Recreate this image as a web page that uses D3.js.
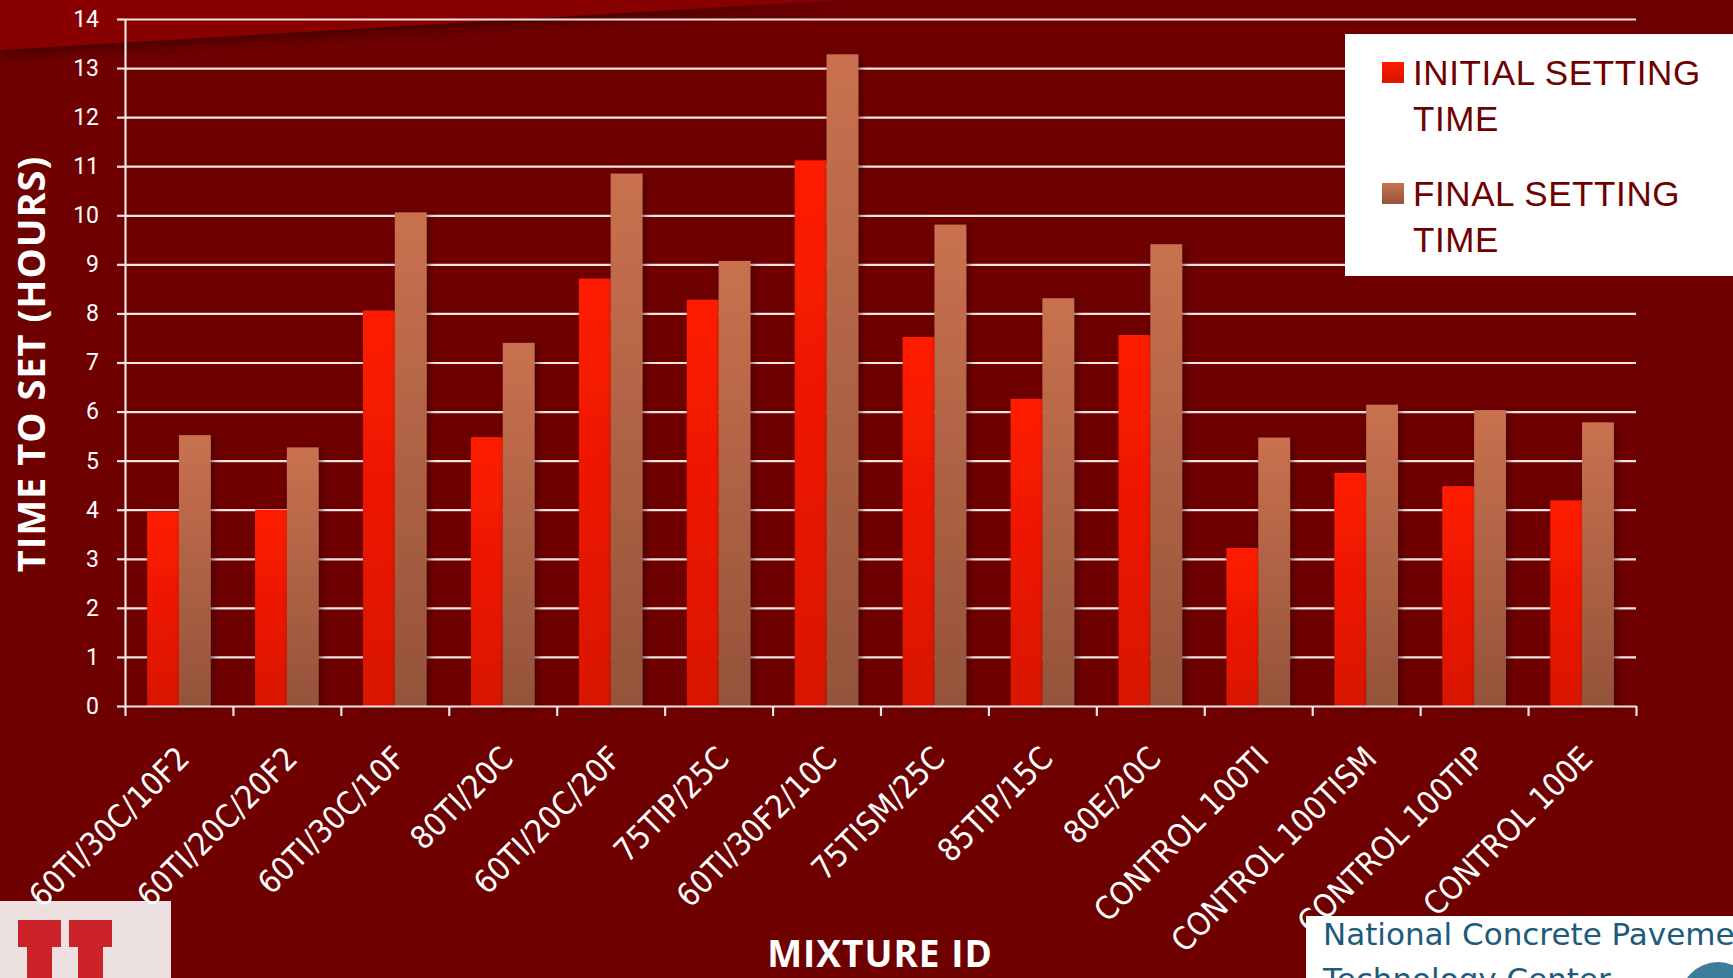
<!DOCTYPE html>
<html>
<head>
<meta charset="utf-8">
<script src="https://cdn.jsdelivr.net/npm/d3@7/dist/d3.min.js"></script>
<style>
html,body{margin:0;padding:0;background:#6e0000;overflow:hidden;}
svg{display:block;}
</style>
</head>
<body>
<svg id="chart" width="1733" height="978"></svg>
<script>
const categories = ["60TI/30C/10F2","60TI/20C/20F2","60TI/30C/10F","80TI/20C","60TI/20C/20F","75TIP/25C","60TI/30F2/10C","75TISM/25C","85TIP/15C","80E/20C","CONTROL 100TI","CONTROL 100TISM","CONTROL 100TIP","CONTROL 100E"];
const initialTime = [3.96, 4.00, 8.06, 5.48, 8.71, 8.28, 11.12, 7.52, 6.26, 7.56, 3.22, 4.75, 4.48, 4.19];
const finalTime   = [5.52, 5.27, 10.06, 7.40, 10.85, 9.07, 13.28, 9.81, 8.31, 9.41, 5.47, 6.14, 6.03, 5.78];
const seriesNames = ["INITIAL SETTING TIME", "FINAL SETTING TIME"];
const yTicks = [0,1,2,3,4,5,6,7,8,9,10,11,12,13,14];

(function(){
const W = 1733, H = 978;
const mLeft = 125, mRight = 1636, mTop = 19, mBottom = 706;
const svg = d3.select("#chart");
const defs = svg.append("defs");

function grad(id, c1, c2){
  const g = defs.append("linearGradient").attr("id", id).attr("x1",0).attr("y1",0).attr("x2",0).attr("y2",1);
  g.append("stop").attr("offset","0%").attr("stop-color",c1);
  g.append("stop").attr("offset","100%").attr("stop-color",c2);
}
grad("gInit", "#ff1c00", "#d81400");
grad("gFinal", "#c9714f", "#94533a");
const f = defs.append("filter").attr("id","shadow").attr("x","-20%").attr("y","-5%").attr("width","150%").attr("height","115%");
f.append("feDropShadow").attr("dx",3).attr("dy",2).attr("stdDeviation",3).attr("flood-color","#300000").attr("flood-opacity",0.55);
const wf = defs.append("filter").attr("id","wshadow").attr("x","-10%").attr("y","-50%").attr("width","120%").attr("height","300%");
wf.append("feDropShadow").attr("dx",0).attr("dy",6).attr("stdDeviation",5).attr("flood-color","#2a0000").attr("flood-opacity",0.5);

svg.append("rect").attr("width",W).attr("height",H).attr("fill","#6e0000");
svg.append("path").attr("d","M0,0 L840,0 L0,50 Z").attr("fill","#880000").attr("filter","url(#wshadow)");

const y = d3.scaleLinear().domain([0,14]).range([mBottom, mTop]);
const x = d3.scaleBand().domain(categories).range([mLeft, mRight]).paddingInner(0.41).paddingOuter(0.205);
const x1 = d3.scaleBand().domain(["initial","final"]).range([0, x.bandwidth()]);
const xb = d3.scaleLinear().domain([0, categories.length]).range([mLeft, mRight]);

const grid = svg.append("g").attr("transform",`translate(${mLeft},0)`)
  .call(d3.axisLeft(y).tickValues(yTicks.filter(v=>v>0)).tickSize(-(mRight-mLeft)).tickFormat(""));
grid.select(".domain").remove();
grid.selectAll("line").attr("stroke","#f0e4e4").attr("stroke-width",2.2);

const groups = svg.append("g").selectAll("g").data(categories).join("g")
  .attr("transform", d => `translate(${x(d)},0)`);
groups.append("rect")
  .attr("x", x1("initial")).attr("width", x1.bandwidth())
  .attr("y", (d,i) => y(initialTime[i])).attr("height", (d,i) => y(0) - y(initialTime[i]))
  .attr("fill","url(#gInit)").attr("filter","url(#shadow)");
groups.append("rect")
  .attr("x", x1("final")).attr("width", x1.bandwidth())
  .attr("y", (d,i) => y(finalTime[i])).attr("height", (d,i) => y(0) - y(finalTime[i]))
  .attr("fill","url(#gFinal)").attr("filter","url(#shadow)");

const ya = svg.append("g").attr("transform",`translate(${mLeft},0)`)
  .call(d3.axisLeft(y).tickValues(yTicks).tickSize(8).tickPadding(18).tickSizeOuter(0));
ya.select(".domain").attr("stroke","#f0e4e4").attr("stroke-width",2.2);
ya.selectAll("line").attr("stroke","#f0e4e4").attr("stroke-width",2.2);
ya.selectAll("text").attr("fill","#ffffff").style("font-family","Roboto, 'Liberation Sans', sans-serif").style("font-size","23px").style("font-weight","400");

const xa = svg.append("g").attr("transform",`translate(0,${mBottom})`)
  .call(d3.axisBottom(xb).tickValues(d3.range(categories.length+1)).tickSize(10).tickFormat("").tickSizeOuter(0));
xa.select(".domain").attr("stroke","#f0e4e4").attr("stroke-width",2.2);
xa.selectAll("line").attr("stroke","#f0e4e4").attr("stroke-width",2.2);

svg.append("text").attr("transform","translate(45,364) rotate(-90)")
  .attr("text-anchor","middle").attr("fill","#ffffff")
  .style("font-family","'Open Sans', sans-serif").style("font-weight","700").style("font-size","38px").style("letter-spacing","1px")
  .text("TIME TO SET (HOURS)");
svg.append("text").attr("x",880).attr("y",967)
  .attr("text-anchor","middle").attr("fill","#ffffff")
  .style("font-family","'Open Sans', sans-serif").style("font-weight","700").style("font-size","37px").style("letter-spacing","1px")
  .text("MIXTURE ID");

const lg = svg.append("g");
lg.append("rect").attr("x",1345).attr("y",34).attr("width",W-1345).attr("height",242).attr("fill","#ffffff");
const legendItems = [
  {fill:"url(#gInit)", lines:["INITIAL SETTING","TIME"], y:62},
  {fill:"url(#gFinal)", lines:["FINAL SETTING","TIME"], y:183}
];
legendItems.forEach((it) => {
  lg.append("rect").attr("x",1382).attr("y",it.y).attr("width",22).attr("height",21).attr("fill", it.fill);
  it.lines.forEach((ln, j) => {
    lg.append("text").attr("x",1413).attr("y", it.y + 23 + j*46)
      .attr("fill","#6e0000")
      .style("font-family","'Liberation Sans', Arial, sans-serif").style("font-size","35px").style("letter-spacing","0.6px")
      .text(ln);
  });
});

const lb = svg.append("g");
lb.append("rect").attr("x",0).attr("y",901).attr("width",171).attr("height",H-901).attr("fill","#ece0e0");
[[18,27],[69,78]].forEach(([bx,sx]) => {
  lb.append("rect").attr("x",bx).attr("y",920).attr("width",43).attr("height",27).attr("fill","#cc222a");
  lb.append("rect").attr("x",sx).attr("y",945).attr("width",25).attr("height",40).attr("fill","#cc222a");
});
const rb = svg.append("g");
rb.append("rect").attr("x",1306).attr("y",916).attr("width",W-1306).attr("height",H-916).attr("fill","#ffffff");
rb.append("text").attr("x",1323).attr("y",945).attr("fill","#1d5b7c")
  .style("font-family","'DejaVu Sans', sans-serif").style("font-size","31px").style("font-weight","500")
  .text("National Concrete Pavement");
rb.append("text").attr("x",1323).attr("y",990).attr("fill","#1d5b7c")
  .style("font-family","'DejaVu Sans', sans-serif").style("font-size","31px").style("font-weight","500")
  .text("Technology Center");
rb.append("circle").attr("cx",1718).attr("cy",1000).attr("r",38).attr("fill","#3d7d9c");

svg.append("g").selectAll("text").data(categories).join("text")
  .attr("transform", d => `translate(${x(d) + x.bandwidth()/2 - 4},744) rotate(-45)`)
  .attr("text-anchor","end").attr("dy","0.72em")
  .attr("fill","#ffffff")
  .style("font-family","'DejaVu Sans Condensed','DejaVu Sans',sans-serif").style("font-stretch","condensed")
  .style("font-size","32px")
  .text(d => d);
})();
</script>
</body>
</html>
